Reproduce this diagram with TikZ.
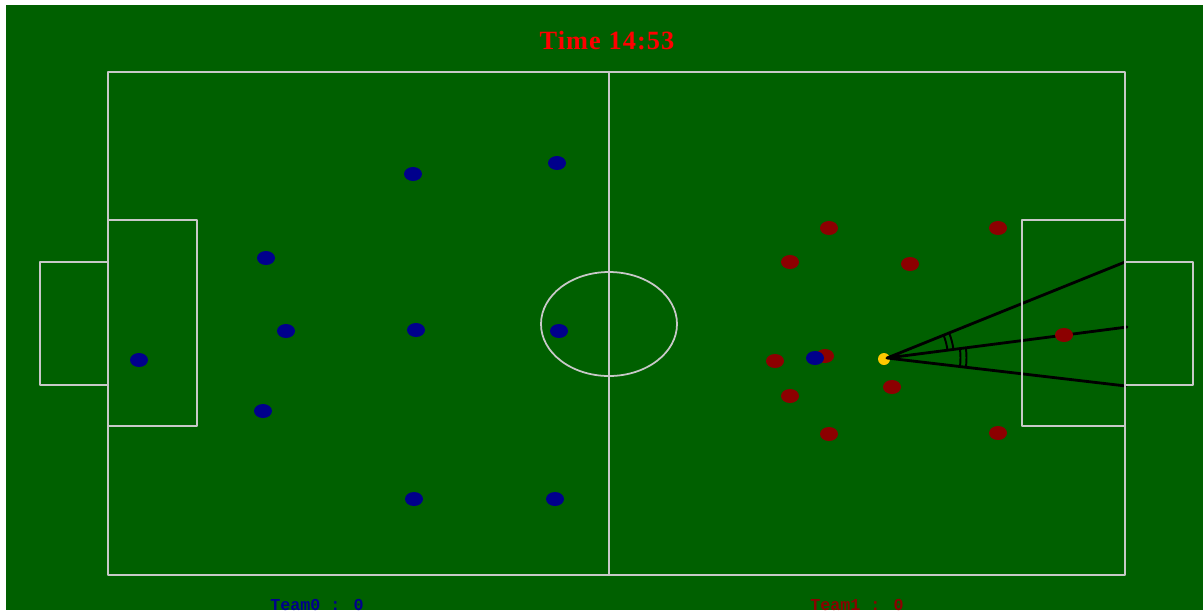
\documentclass[tikz,border=0pt]{standalone}
\usepackage{fontspec}
\usetikzlibrary{angles}
\newfontfamily\timefont[LetterSpace=4]{Liberation Serif}
\newfontfamily\scorefont{Liberation Mono}
\definecolor{pitch}{RGB}{0,96,0}
\definecolor{chalk}{RGB}{200,200,200}
\definecolor{teamzero}{RGB}{0,0,140}
\definecolor{teamone}{RGB}{140,0,0}
\definecolor{ballcol}{RGB}{255,200,0}
\tikzset{
  marking/.style={draw=chalk,line width=1pt},
  sightline/.style={draw=black,line width=1.6pt},
  anglearc/.style={draw=black,line width=1.1pt}
}
\begin{document}
\begin{tikzpicture}[x=0.02cm,y=-0.02cm,line join=round,line cap=round]
		\fill[white] (0,0) rectangle (1203,610);
		\fill[pitch] (6,5) rectangle (1203,610);
		\useasboundingbox (0,0) rectangle (1203,610);
		\coordinate (ball) at (887,358);
		\coordinate (postT) at (1125,262);
		\coordinate (postM) at (1127,327);
		\coordinate (postB) at (1126,386);
		% sight lines to the goal
		\fill[ballcol] (884,359) circle (6);
		\draw[sightline] (ball) -- (postT) (ball) -- (postM) (ball) -- (postB);
		\foreach \r in {1.22cm,1.34cm} \pic[anglearc,angle radius=\r] {angle=postM--ball--postT};
		\foreach \r in {1.47cm,1.59cm} \pic[anglearc,angle radius=\r] {angle=postB--ball--postM};
		% field markings
		\draw[marking] (108,72) rectangle (1125,575);
		\draw[marking] (609,72) -- (609,575);
		\draw[marking] (609,324) ellipse (68 and 52);
		\draw[marking] (108,220) rectangle (197,426);
		\draw[marking] (108,262) -- (40,262) -- (40,385) -- (108,385);
		\draw[marking] (1022,220) rectangle (1125,426);
		\draw[marking] (1125,262) -- (1193,262) -- (1193,385) -- (1125,385);
		% players
		\foreach \x/\y in {829/228,998/228,790/262,910/264,775/361,825/356,1064/335,892/387,790/396,829/434,998/433}
			\fill[teamone] (\x,\y) ellipse (9 and 7);
		\foreach \x/\y in {413/174,557/163,266/258,286/331,416/330,559/331,139/360,263/411,414/499,555/499,815/358}
			\fill[teamzero] (\x,\y) ellipse (9 and 7);
		% texts
		\node[text=red,font=\timefont\bfseries\fontsize{15}{17}\selectfont] (time) at (607,41) {Time 14:53};
		\node[text=teamzero,font=\scorefont\bfseries\fontsize{9.5}{11}\selectfont,anchor=base] (score0) at (317,610) {Team0 : 0};
		\node[text=teamone,font=\scorefont\bfseries\fontsize{9.5}{11}\selectfont,anchor=base] (score1) at (857,610) {Team1 : 0};
	\end{tikzpicture}
\end{document}
